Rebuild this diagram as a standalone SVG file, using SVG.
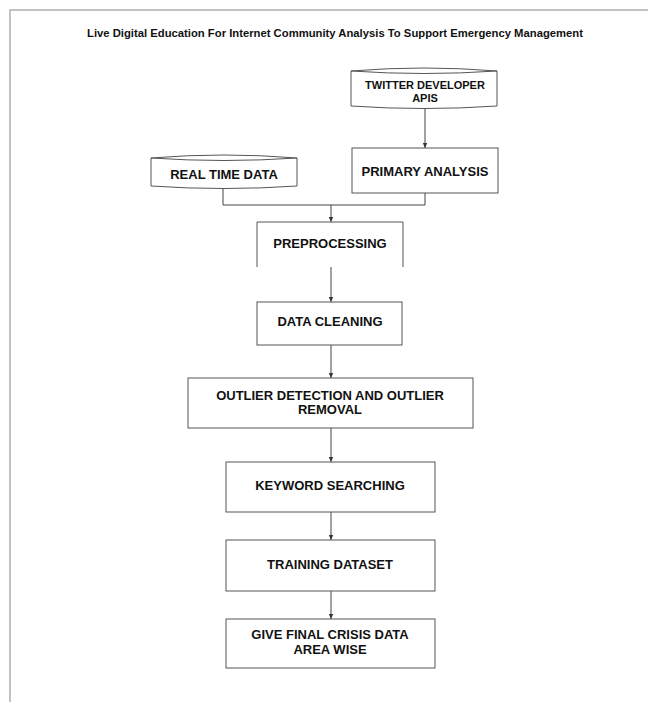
<svg xmlns="http://www.w3.org/2000/svg" width="648" height="702" viewBox="0 0 648 702">
<defs>
<style>
.frame{fill:none;stroke:#b0b0b0;stroke-width:1.5}
.box{fill:#fff;stroke:#555;stroke-width:1}
.cyl{fill:#fff;stroke:#555;stroke-width:1}
.t{font-family:"Liberation Sans",Arial,sans-serif;font-weight:bold;font-size:13px;fill:#111;text-anchor:middle}
.ts{font-size:11px}
.title{font-family:"Liberation Sans",Arial,sans-serif;font-weight:bold;font-size:11px;fill:#111;text-anchor:middle}
.c{fill:none;stroke:#444;stroke-width:1}
</style>
<marker id="ah" markerWidth="6" markerHeight="6" refX="5" refY="3" orient="auto" markerUnits="userSpaceOnUse">
<path d="M0,0.8 L5,3 L0,5.2 z" fill="#333"/>
</marker>
</defs>
<rect width="648" height="702" fill="#fff"/>
<path class="frame" d="M10,702 V10 H648"/>
<text class="title" x="335" y="37" textLength="496" lengthAdjust="spacingAndGlyphs">Live Digital Education For Internet Community Analysis To Support Emergency Management</text>

<g id="connectors">
<path class="c" d="M425,108 V148" marker-end="url(#ah)"/>
<path class="c" d="M223,188 V205 H331 V222" marker-end="url(#ah)"/>
<path class="c" d="M425,193 V205 H331"/>
<path class="c" d="M331,267 V302" marker-end="url(#ah)"/>
<path class="c" d="M331,345 V378" marker-end="url(#ah)"/>
<path class="c" d="M331,428 V462" marker-end="url(#ah)"/>
<path class="c" d="M331,512 V540" marker-end="url(#ah)"/>
<path class="c" d="M331,591 V619" marker-end="url(#ah)"/>
</g>

<g id="twitter">
<path class="cyl" d="M351,71 Q424,65 497,71 V106 Q424,111 351,106 Z"/>
<path class="cyl" d="M351,71 Q424,76 497,71"/>
<text class="t ts" x="425" y="89">TWITTER DEVELOPER</text>
<text class="t ts" x="425" y="102">APIS</text>
</g>

<g id="primary">
<rect class="box" x="352" y="148" width="146" height="45"/>
<text class="t" x="425" y="176">PRIMARY ANALYSIS</text>
</g>

<g id="realtime">
<path class="cyl" d="M151,158 Q224,152 297,158 V186 Q224,191 151,186 Z"/>
<path class="cyl" d="M151,158 Q224,163 297,158"/>
<text class="t" x="224" y="179">REAL TIME DATA</text>
</g>

<g id="preprocessing">
<path class="box" d="M257,267 V222 H403 V267"/>
<text class="t" x="330" y="248">PREPROCESSING</text>
</g>

<g id="cleaning">
<rect class="box" x="257" y="302" width="145" height="43"/>
<text class="t" x="330" y="326">DATA CLEANING</text>
</g>

<g id="outlier">
<rect class="box" x="188" y="378" width="285" height="50"/>
<text class="t" x="330" y="400">OUTLIER DETECTION AND OUTLIER</text>
<text class="t" x="330" y="414">REMOVAL</text>
</g>

<g id="keyword">
<rect class="box" x="226" y="462" width="209" height="50"/>
<text class="t" x="330" y="490">KEYWORD SEARCHING</text>
</g>

<g id="training">
<rect class="box" x="226" y="540" width="209" height="51"/>
<text class="t" x="330" y="569">TRAINING DATASET</text>
</g>

<g id="final">
<rect class="box" x="226" y="619" width="209" height="49"/>
<text class="t" x="330" y="639">GIVE FINAL CRISIS DATA</text>
<text class="t" x="330" y="654">AREA WISE</text>
</g>
</svg>
